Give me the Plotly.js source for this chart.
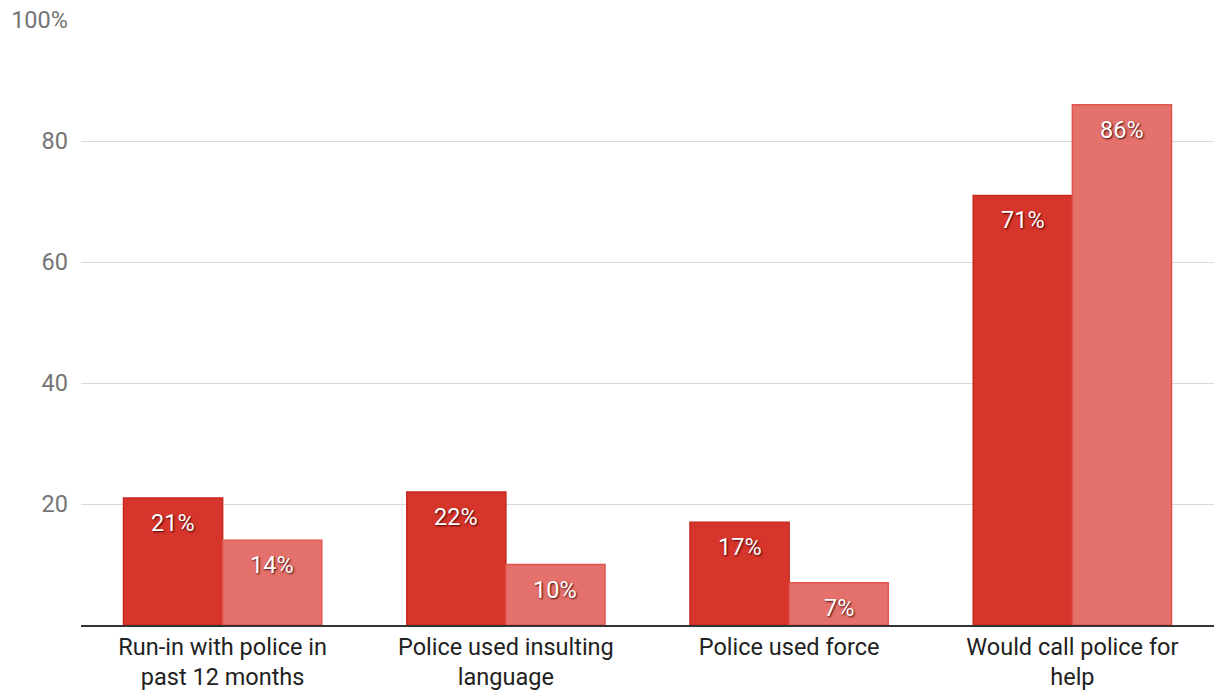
<!DOCTYPE html>
<html>
<head>
<meta charset="utf-8">
<script src="https://cdn.plot.ly/plotly-3.0.1.min.js"></script>
<style>
html,body{margin:0;padding:0;background:#fff;overflow:hidden;}
#chart{width:1214px;height:690px;}
</style>
</head>
<body>
<div id="chart"></div>
<script>
const categories = [
  "Run-in with police in<br>past 12 months",
  "Police used insulting<br>language",
  "Police used force",
  "Would call police for<br>help"
];
const seriesA = [21, 22, 17, 71];
const seriesB = [14, 10, 7, 86];
const yTickVals = [20, 40, 60, 80, 100];
const yTickText = ["20", "40", "60", "80", "100%"];

const idx = categories.map((_, i) => i);
const colA = "#d6352b", lineA = "#c8281f";
const colB = "#e4716b", lineB = "#e0564f";
const halfW = 0.35;

const traces = [
  {type: "bar", x: idx, y: seriesA, width: halfW, offset: -halfW,
   marker: {color: colA, line: {color: lineA, width: 1.5}}, hoverinfo: "y"},
  {type: "bar", x: idx, y: seriesB, width: halfW, offset: 0,
   marker: {color: colB, line: {color: lineB, width: 1.5}}, hoverinfo: "y"}
];

const labelFont = {family: "Roboto, sans-serif", size: 23.5, color: "#ffffff",
  shadow: "1px 1px 2px rgba(60,0,0,0.95)"};
const annotations = [];
idx.forEach(i => {
  annotations.push({x: i - halfW/2, y: seriesA[i], xref: "x", yref: "y",
    text: seriesA[i] + "%", showarrow: false, yanchor: "middle", yshift: -25, font: labelFont});
  annotations.push({x: i + halfW/2, y: seriesB[i], xref: "x", yref: "y",
    text: seriesB[i] + "%", showarrow: false, yanchor: "middle", yshift: -25, font: labelFont});
});

const layout = {
  width: 1214, height: 690,
  margin: {l: 81, r: 0, t: 20, b: 65},
  paper_bgcolor: "#ffffff", plot_bgcolor: "#ffffff",
  showlegend: false,
  font: {family: "Roboto, sans-serif"},
  xaxis: {
    range: [-0.5, 3.5], tickvals: idx, ticktext: categories,
    showgrid: false, zeroline: false, showline: true, linecolor: "#333333", linewidth: 1.5,
    ticks: "", ticklabelstandoff: 0,
    tickfont: {family: "Roboto, sans-serif", size: 23.5, color: "#222222"},
    fixedrange: true
  },
  yaxis: {
    range: [0, 100], tickvals: yTickVals, ticktext: yTickText,
    showgrid: true, gridcolor: "#d9d9d9", gridwidth: 1, zeroline: false, showline: false,
    ticks: "", ticklabelstandoff: 12,
    tickfont: {family: "Roboto, sans-serif", size: 23.5, color: "#757575"},
    fixedrange: true
  },
  annotations: annotations
};

Plotly.newPlot("chart", traces, layout, {displayModeBar: false, staticPlot: true});
</script>
</body>
</html>
